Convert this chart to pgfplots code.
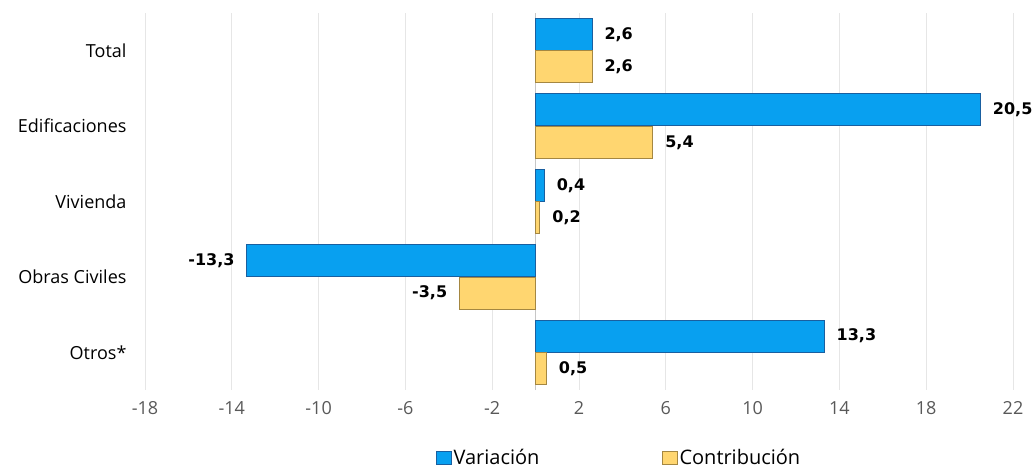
\documentclass[border=0pt]{standalone}
\usepackage{fontspec}
\setmainfont{Open Sans}
\newfontfamily\lblfont{DejaVu Sans}
\usepackage{pgfplots}
\pgfplotsset{compat=1.18}
\definecolor{varblue}{RGB}{8,160,240}
\definecolor{varedge}{RGB}{25,95,160}
\definecolor{conyel}{RGB}{255,214,112}
\definecolor{conedge}{RGB}{165,135,65}
\definecolor{gridgray}{RGB}{230,230,230}
\definecolor{ticktext}{RGB}{89,89,89}

\begin{document}
\begin{tikzpicture}
  \begin{axis}[
      name=a,
      xbar,
      scale only axis,
      width=868pt,
      height=377pt,
      xmin=-18, xmax=22,
      ymin=-0.5, ymax=4.5,
      xtick={-18,-14,...,22},
      ytick={0,1,2,3,4},
      yticklabels={Otros*, Obras Civiles, Vivienda, Edificaciones, Total},
      axis line style={draw=none},
      major tick length=0pt,
      xmajorgrids,
      grid style={gridgray, line width=0.8pt},
      extra x ticks={0},
      extra x tick labels={},
      extra x tick style={grid style={gray!45, line width=0.8pt}},
      /pgf/number format/assume math mode=true,
      xticklabel style={font=\fontsize{18}{20}\selectfont, text=ticktext, yshift=-8pt},
      yticklabel style={font=\fontsize{18}{20}\selectfont, text=black, xshift=-15pt},
      bar width=0.424,
      nodes near coords={\pgfmathprintnumber[use comma,fixed,fixed zerofill,precision=1]{\pgfplotspointmeta}},
      nodes near coords style={font=\lblfont\bfseries\fontsize{16}{18}\selectfont, text=black, inner xsep=12pt},
      legend columns=2,
      legend style={
        at={(0.546,-0.18)}, anchor=center,
        draw=none, fill=none, inner sep=1pt,
        font=\fontsize{20}{22}\selectfont,
        /tikz/every even column/.append style={column sep=120pt},
      },
      legend image code/.code={
        \draw[#1] (0pt,-7pt) rectangle (15pt,6pt);
      },
    ]
    % Variacion
    \addplot[fill=varblue, draw=varedge, line width=1pt, bar shift=0.215] coordinates {
      (2.6,4) (20.5,3) (0.4,2) (-13.3,1) (13.3,0)
    };
    \addlegendentry{Variación}
    % Contribucion
    \addplot[fill=conyel, draw=conedge, line width=1pt, bar shift=-0.215] coordinates {
      (2.6,4) (5.4,3) (0.2,2) (-3.5,1) (0.5,0)
    };
    \addlegendentry{Contribución}
  \end{axis}
  \pgfresetboundingbox
  \path ([shift={(-145pt,-78pt)}]a.south west) rectangle ([shift={(22pt,13pt)}]a.north east);
\end{tikzpicture}
\end{document}
